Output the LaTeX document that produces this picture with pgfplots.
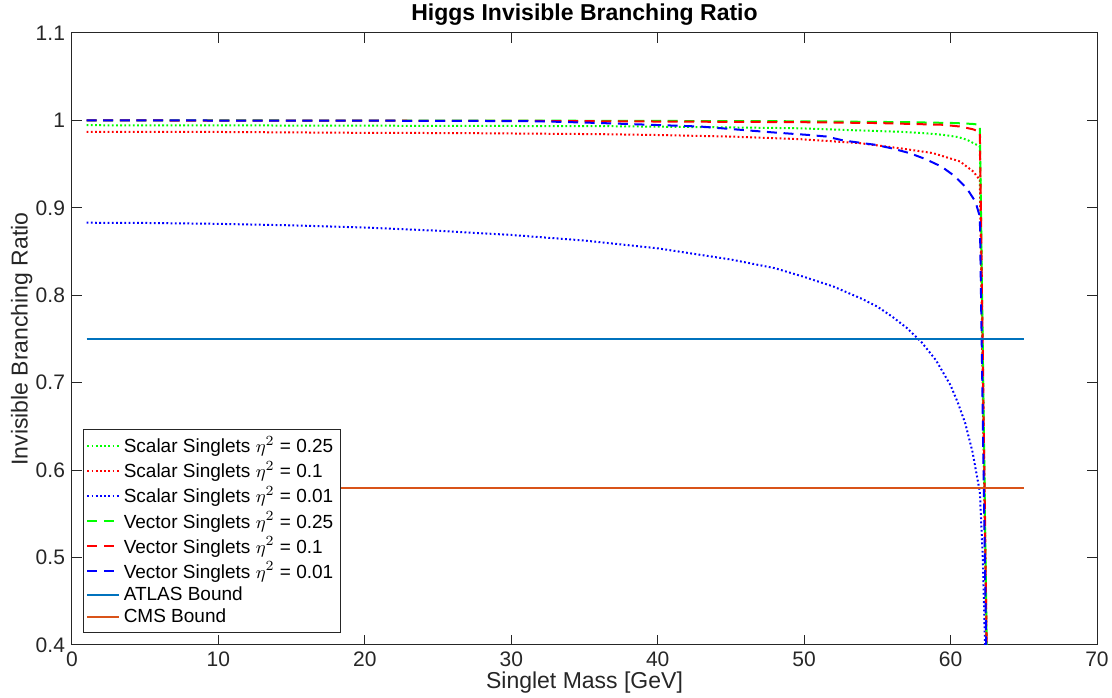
\documentclass[border=0pt]{standalone}
\usepackage{fontspec}
\setmainfont{Liberation Sans}
\usepackage{pgfplots}
\pgfplotsset{compat=1.18}
\definecolor{matblue}{rgb}{0,0.447,0.741}
\definecolor{matorange}{rgb}{0.85,0.325,0.098}
\definecolor{axgray}{rgb}{0.15,0.15,0.15}
\begin{document}
\begin{tikzpicture}
\begin{axis}[
  name=main,
  scale only axis,
  width=512.5pt, height=306pt,
  xmin=0, xmax=70, ymin=0.4, ymax=1.1,
  xtick={0,10,...,70},
  ytick={0.4,0.5,0.6,0.7,0.8,0.9,1,1.1},
  yticklabels={0.4,0.5,0.6,0.7,0.8,0.9,1,1.1},
  /pgf/number format/assume math mode=true,
  tick align=inside,
  major tick length=5pt,
  axis line style={axgray, line width=0.5pt},
  every tick/.style={axgray, line width=0.5pt},
  tick label style={font=\fontsize{10.5}{12}\selectfont, text=axgray},
  xlabel={Singlet Mass [GeV]},
  ylabel={Invisible Branching Ratio},
  label style={font=\fontsize{11.5}{13}\selectfont, text=axgray},
  xlabel style={at={(axis description cs:0.5,-0.062)}, anchor=center},
  ylabel style={at={(axis description cs:-0.049,0.5)}, anchor=center},
  legend style={at={(axis description cs:0.0107,0.0196)}, anchor=south west,
    draw=axgray, line width=0.5pt, fill=white, font=\fontsize{9.5}{11}\selectfont,
    inner sep=1.5pt, row sep=-1.3pt},
  legend cell align=left,
  legend image code/.code={\draw[#1] (0cm,0cm) -- (0.55cm,0cm);},
  clip=true,
]
% Scalar 0.25
\addplot[color={rgb,1:red,0;green,1;blue,0}, line width=1pt, dash pattern=on 0.9pt off 1.2pt] coordinates {
(1,0.9945)(10,0.9943)(20,0.994)(26.5,0.9937)(36,0.9935)(45,0.992)(49.7,0.991)(53,0.989)(56.6,0.987)(58.5,0.985)(59.5,0.9835)(60.5,0.981)(61.1,0.978)(61.8,0.972)(62,0.970)(62.78,0.0)};
\addlegendentry{Scalar Singlets $\eta^2$ = 0.25}
% Scalar 0.1
\addplot[color={rgb,1:red,1;green,0;blue,0}, line width=1pt, dash pattern=on 0.9pt off 1.2pt] coordinates {
(1,0.987)(10,0.9868)(20,0.9858)(26.5,0.9855)(36,0.9843)(40,0.9833)(45,0.9815)(49.7,0.9786)(53.8,0.974)(56.6,0.968)(58.8,0.9626)(60.65,0.953)(61.55,0.9415)(62,0.932)(62.78,0.0)};
\addlegendentry{Scalar Singlets $\eta^2$ = 0.1}
% Scalar 0.01
\addplot[color={rgb,1:red,0;green,0;blue,1}, line width=1pt, dash pattern=on 0.9pt off 1.2pt] coordinates {
(1,0.883)(5,0.8827)(10,0.8817)(15,0.8800)(20,0.8775)(25,0.8738)(30,0.869)(35,0.8626)(40,0.8537)(45,0.8409)(48,0.831)(50,0.821)(52,0.810)(54,0.7955)(55,0.787)(56,0.7757)(57,0.7628)(58,0.7467)(59,0.7258)(60,0.697)(60.5,0.677)(61,0.6537)(61.5,0.6207)(62,0.575)(62.2,0.50)(62.4,0.37)(62.5,0.0)};
\addlegendentry{Scalar Singlets $\eta^2$ = 0.01}
% Vector 0.25
\addplot[color={rgb,1:red,0;green,1;blue,0}, line width=1pt, dash pattern=on 5pt off 3.3pt] coordinates {
(1,1.0)(30,0.9998)(50,0.999)(57,0.998)(60.3,0.997)(61.5,0.996)(62,0.995)(62.78,0.0)};
\addlegendentry{Vector Singlets $\eta^2$ = 0.25}
% Vector 0.1
\addplot[color={rgb,1:red,1;green,0;blue,0}, line width=1pt, dash pattern=on 5pt off 3.3pt] coordinates {
(1,1.0)(30,0.9995)(49.7,0.998)(55,0.997)(59.5,0.995)(60.65,0.993)(61.5,0.99)(62,0.987)(62.78,0.0)};
\addlegendentry{Vector Singlets $\eta^2$ = 0.1}
% Vector 0.01
\addplot[color={rgb,1:red,0;green,0;blue,1}, line width=1pt, dash pattern=on 5pt off 3.3pt] coordinates {
(1,1.0)(10,0.9999)(20,0.9997)(26.5,0.9995)(32,0.999)(36.1,0.997)(42.9,0.993)(47.7,0.9865)(50.2,0.9835)(51.5,0.9816)(52.7,0.977)(53.8,0.9745)(54.9,0.972)(56.0,0.968)(57.2,0.9626)(58.3,0.9557)(59.4,0.947)(60.3,0.936)(61.1,0.9225)(61.7,0.907)(62.0,0.890)(62.78,0.0)};
\addlegendentry{Vector Singlets $\eta^2$ = 0.01}
% ATLAS
\addplot[color=matblue, line width=1pt] coordinates {(1,0.75)(65,0.75)};
\addlegendentry{ATLAS Bound}
% CMS
\addplot[color=matorange, line width=1pt] coordinates {(1,0.58)(65,0.58)};
\addlegendentry{CMS Bound}
\end{axis}
\node[font=\bfseries\fontsize{11.5}{13}\selectfont, anchor=center] at ([yshift=9pt]main.north) {Higgs Invisible Branching Ratio};
\pgfresetboundingbox
\path[use as bounding box] ([shift={(-36pt,-26.5pt)}]main.south west) rectangle ([shift={(7.5pt,16.5pt)}]main.north east);
\end{tikzpicture}
\end{document}
